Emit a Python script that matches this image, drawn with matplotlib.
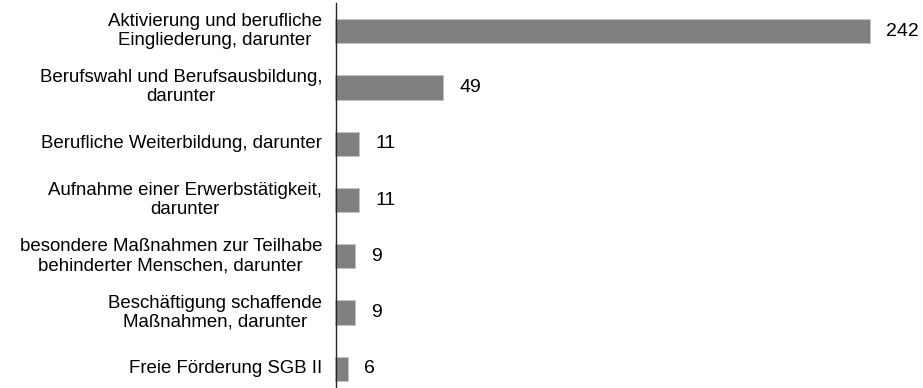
import matplotlib.pyplot as plt
import matplotlib.transforms as mtransforms

# Data
categories = [
    "Aktivierung und berufliche\nEingliederung, darunter",
    "Berufswahl und Berufsausbildung,\ndarunter",
    "Berufliche Weiterbildung, darunter",
    "Aufnahme einer Erwerbstätigkeit,\ndarunter",
    "besondere Maßnahmen zur Teilhabe\nbehinderter Menschen, darunter",
    "Beschäftigung schaffende\nMaßnahmen, darunter",
    "Freie Förderung SGB II",
]
values = [242, 49, 11, 11, 9, 9, 6]

plt.rcParams['font.family'] = ['Liberation Sans', 'DejaVu Sans']

fig = plt.figure(figsize=(9.23, 3.88), dpi=100)
ax = fig.add_axes([335 / 923, 0.0, 1 - 335 / 923, 385 / 388])

ypos = list(range(len(values)))
bars = ax.barh(ypos, values, height=0.43, color='#808080',
               edgecolor='#c4c4c4', linewidth=0.6)

# value labels right of each bar
for y, v in zip(ypos, values):
    ax.annotate(str(v), xy=(v, y), xytext=(11.5, 0), textcoords='offset points',
                ha='left', va='center', fontsize=14, color='#000000')

ax.set_xlim(0, 266)
ax.set_ylim(6.34, -0.5)

# category labels, centred lines, right edge a bit left of the axis
trans = mtransforms.blended_transform_factory(ax.transAxes, ax.transData)
for y, name in zip(ypos, categories):
    ax.text(-13 / 588, y, name, transform=trans, ha='right', va='center',
            multialignment='center', linespacing=1.15, fontsize=13.4,
            color='#000000')

ax.set_yticks([])
ax.set_xticks([])

for side in ['top', 'right', 'bottom']:
    ax.spines[side].set_visible(False)
ax.spines['left'].set_color('#262626')
ax.spines['left'].set_linewidth(1.0)
ax.spines['left'].set_position(('data', 0.6))

plt.savefig('out.png', dpi=100)
plt.close()
